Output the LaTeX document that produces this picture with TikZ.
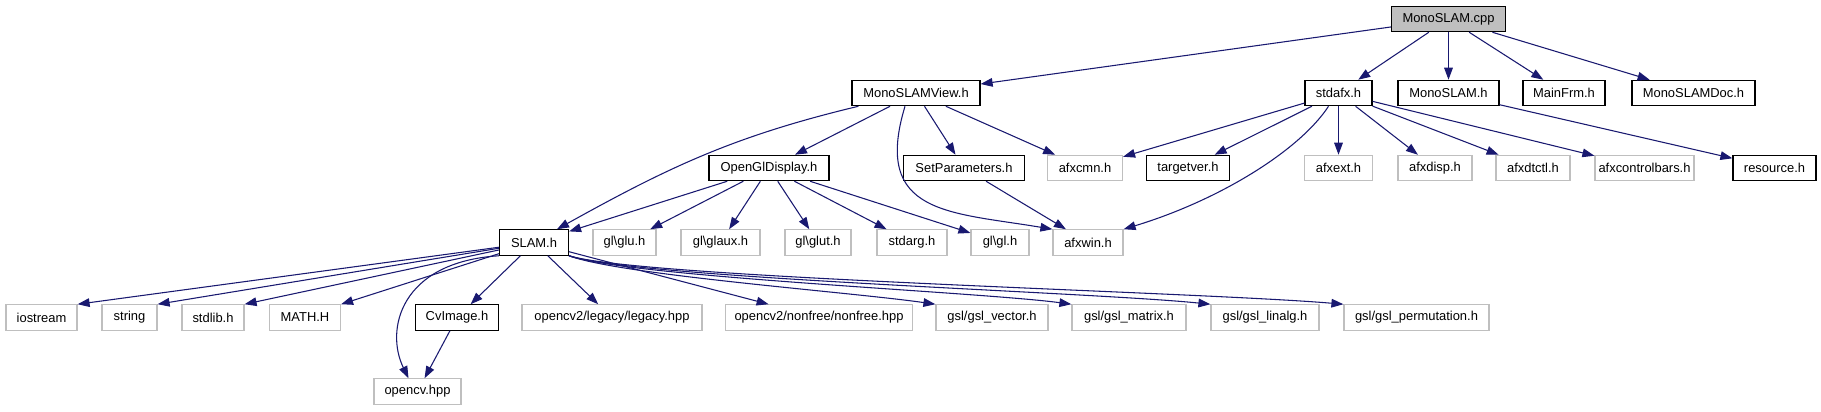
\documentclass[tikz,border=0pt]{standalone}
\usepackage{fontspec}
\setmainfont{Liberation Sans}
\usepackage{xcolor}
\definecolor{edgeblue}{RGB}{25,25,112}
\definecolor{grey75}{RGB}{191,191,191}
\usetikzlibrary{arrows.meta,calc}

\begin{document}
\begin{tikzpicture}[
  x=0.75pt,y=-0.75pt,
  box/.style={rectangle,inner sep=0pt,minimum height=19pt,
              minimum width=#1*0.75pt,line width=0.9pt,
              font=\fontsize{9.7}{11}\selectfont},
  hdr/.style={box=#1,draw=black},
  ext/.style={box=#1,draw=grey75},
  root/.style={box=#1,draw=black,fill=grey75},
  dep/.style={draw=edgeblue,line width=0.8pt,
              -{Triangle[length=9pt,width=6.5pt]}},
]
  \useasboundingbox (0,0) rectangle (1821,411);
  %% row 1
  \node[root=114](cpp) at (1448.5,19){MonoSLAM.cpp};
  %% row 2
  \node[hdr=128](view) at (916,93){MonoSLAMView.h};
  \node[hdr=67](stdafx) at (1338.5,93){stdafx.h};
  \node[hdr=101](monoh) at (1448.5,93){MonoSLAM.h};
  \node[hdr=82](mainfrm) at (1564,93){MainFrm.h};
  \node[hdr=123](doc) at (1693.5,93){MonoSLAMDoc.h};
  %% row 3
  \node[hdr=120](ogl) at (769,168){OpenGlDisplay.h};
  \node[hdr=121](setp) at (964,168){SetParameters.h};
  \node[ext=75](afxcmn) at (1085,168){afxcmn.h};
  \node[hdr=83](targetver) at (1188,168){targetver.h};
  \node[ext=68](afxext) at (1338.5,168){afxext.h};
  \node[ext=74](afxdisp) at (1435,168){afxdisp.h};
  \node[ext=74](afxdtctl) at (1533,168){afxdtctl.h};
  \node[ext=99](afxcbars) at (1644.5,168){afxcontrolbars.h};
  \node[hdr=83](resource) at (1774.5,168){resource.h};
  %% row 4
  \node[hdr=69](slam) at (534,242.5){SLAM.h};
  \node[ext=63](glu) at (624.5,242.5){gl\textbackslash{}glu.h};
  \node[ext=79](glaux) at (720.5,242.5){gl\textbackslash{}glaux.h};
  \node[ext=66](glut) at (818,242.5){gl\textbackslash{}glut.h};
  \node[ext=70](stdarg) at (912,242.5){stdarg.h};
  \node[ext=58](gl) at (1000,242.5){gl\textbackslash{}gl.h};
  \node[ext=70](afxwin) at (1088,242.5){afxwin.h};
  %% row 5
  \node[ext=71](iostream) at (41.5,317.5){iostream};
  \node[ext=55](string) at (129.5,317.5){string};
  \node[ext=62](stdlib) at (213,317.5){stdlib.h};
  \node[ext=71](math) at (305,317.5){MATH.H};
  \node[hdr=83](cvimage) at (457,317.5){CvImage.h};
  \node[ext=180](legacy) at (612,317.5){opencv2/legacy/legacy.hpp};
  \node[ext=187](nonfree) at (819,317.5){opencv2/nonfree/nonfree.hpp};
  \node[ext=112](gslvec) at (992,317.5){gsl/gsl\_vector.h};
  \node[ext=114](gslmat) at (1129,317.5){gsl/gsl\_matrix.h};
  \node[ext=108](gsllin) at (1265,317.5){gsl/gsl\_linalg.h};
  \node[ext=145](gslperm) at (1416.5,317.5){gsl/gsl\_permutation.h};
  %% row 6
  \node[ext=87](opencv) at (417.5,391.5){opencv.hpp};

  %% includes
  \draw[dep] (cpp) -- (view);
  \draw[dep] (cpp) -- (stdafx);
  \draw[dep] (cpp) -- (monoh);
  \draw[dep] (cpp) -- (mainfrm);
  \draw[dep] (cpp) -- (doc);
  \draw[dep] ($(view.south west)+(7,0)$) .. controls (734,136) and (669,167) .. ($(slam.north)+(23,0)$);
  \draw[dep] (view) -- (ogl);
  \draw[dep] ($(view.south)+(-11,0)$) .. controls (872,215) and (950,212) .. (afxwin.north west);
  \draw[dep] (view) -- (setp);
  \draw[dep] (view) -- (afxcmn);
  \draw[dep] (stdafx) -- (afxcmn);
  \draw[dep] (stdafx) -- (targetver);
  \draw[dep] ($(stdafx.south)+(-10,0)$) .. controls (1300,150) and (1220,200) .. (afxwin.north east);
  \draw[dep] (stdafx) -- (afxext);
  \draw[dep] (stdafx) -- (afxdisp);
  \draw[dep] (stdafx) -- (afxdtctl);
  \draw[dep] (stdafx) -- (afxcbars);
  \draw[dep] (monoh) -- (resource);
  \draw[dep] (ogl) -- (slam);
  \draw[dep] (ogl) -- (glu);
  \draw[dep] (ogl) -- (glaux);
  \draw[dep] (ogl) -- (glut);
  \draw[dep] (ogl) -- (stdarg);
  \draw[dep] (ogl) -- (gl);
  \draw[dep] (setp) -- (afxwin);
  \draw[dep] (slam) -- (iostream.north east);
  \draw[dep] (slam) -- (string.north east);
  \draw[dep] (slam) -- (stdlib.north east);
  \draw[dep] (slam) -- (math.north east);
  \draw[dep] (slam.south west) .. controls (400,262) and (385,330) .. ($(opencv.north)+(-9,0)$);
  \draw[dep] (slam) -- (cvimage);
  \draw[dep] (cvimage) -- (opencv);
  \draw[dep] (slam) -- (legacy);
  \draw[dep] (slam) -- (nonfree);
  \draw[dep] (slam.south east) .. controls (620,275) and (850,292) .. (gslvec.north west);
  \draw[dep] (slam.south east) .. controls (630,277) and (980,292) .. (gslmat.north west);
  \draw[dep] (slam.south east) .. controls (635,278) and (1090,292) .. (gsllin.north west);
  \draw[dep] (slam.south east) .. controls (640,278) and (1200,292) .. (gslperm.north west);
\end{tikzpicture}
\end{document}
